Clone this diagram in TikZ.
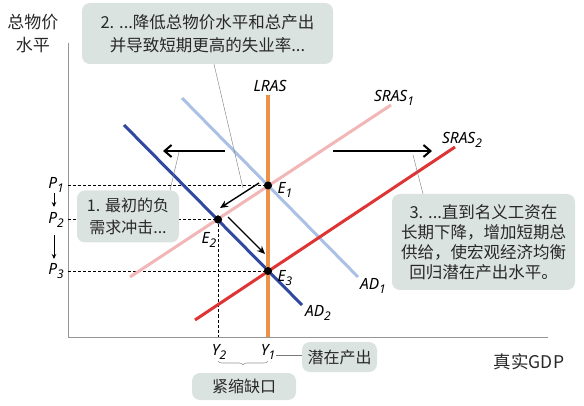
\documentclass[tikz,border=0pt]{standalone}
\usepackage{fontspec}
\setmainfont{Noto Sans CJK SC}
\newfontfamily\latf{Noto Sans}
\usetikzlibrary{arrows.meta,decorations.pathreplacing}
\definecolor{boxfill}{RGB}{219,227,224}
\definecolor{txt}{RGB}{40,40,40}
\definecolor{adone}{RGB}{170,192,228}
\definecolor{adtwo}{RGB}{48,72,160}
\definecolor{srasone}{RGB}{242,182,182}
\definecolor{srastwo}{RGB}{222,52,52}
\definecolor{lrascol}{RGB}{236,146,72}
\definecolor{axiscol}{RGB}{150,150,150}
\newcommand\lsub[1]{\raisebox{-0.45ex}{\fontsize{12}{12}\selectfont #1}}
\tikzset{
  callout/.style={fill=boxfill, rounded corners=8pt, text=txt, align=center, inner sep=0pt},
  curve/.style={line width=3pt},
  lab/.style={font=\latf\itshape\fontsize{15.5}{15.5}\selectfont, text=black, inner sep=0pt},
  guide/.style={dashed, line width=0.6pt, dash pattern=on 3pt off 2pt},
  leader/.style={draw=axiscol!80!black, line width=0.4pt},
  bigarrow/.style={line width=2.2pt, -{Straight Barb[length=7pt,width=12pt,line width=2pt]}},
  smallarrow/.style={line width=1.4pt, -{Stealth[length=8pt,width=7pt]}},
  dot/.style={circle, fill=black, minimum size=8pt, inner sep=0pt},
}
\begin{document}
\begin{tikzpicture}[x=1pt,y=-1pt]
\useasboundingbox (0,0) rectangle (584,406);

% axes
\coordinate (orig) at (68,337);
\coordinate (ytop) at (68,43);
\coordinate (xend) at (548,337);
\draw[axiscol, line width=0.8pt] (ytop) -- (orig) -- (xend);

% points
\node[dot] (E1) at (268,185.5) {};
\node[dot] (E2) at (218,219.5) {};
\node[dot] (E3) at (268,271) {};

% guides
\coordinate (p1a) at (68,185.5);
\coordinate (p2a) at (68,219.5);
\coordinate (p3a) at (68,271);
\coordinate (y2a) at (218,337);
\draw[guide] (p1a) -- (E1.center);
\draw[guide] (p2a) -- (E2.center);
\draw[guide] (p3a) -- (E3.center);
\draw[guide] (E2.center) -- (y2a);

% curves
\coordinate (sr1a) at (130,277); \coordinate (sr1b) at (391,105);
\coordinate (ad1a) at (182,98);  \coordinate (ad1b) at (358,277);
\coordinate (sr2a) at (195,320); \coordinate (sr2b) at (455,147);
\coordinate (ad2a) at (124,125); \coordinate (ad2b) at (302,305);
\coordinate (lra) at (268,95);   \coordinate (lrb) at (268,337);
\draw[curve, srasone] (sr1a) -- (sr1b);
\draw[curve, adone] (ad1a) -- (ad1b);
\draw[curve, srastwo] (sr2a) -- (sr2b);
\draw[curve, adtwo] (ad2a) -- (ad2b);
\fill[lrascol] (266.4,95) rectangle (269.6,337);
\path (lra) -- (lrb);

% redraw dots on top
\node[dot] at (E1) {};
\node[dot] at (E2) {};
\node[dot] at (E3) {};

% curve labels
\node[lab] (lLRAS) at (270,86) {LRAS};
\node[lab] (lS1) at (394,98) {SRAS\lsub{1}};
\node[lab] (lS2) at (462,140) {SRAS\lsub{2}};
\node[lab] (lAD1) at (373,286) {AD\lsub{1}};
\node[lab] (lAD2) at (318,313) {AD\lsub{2}};
\node[lab] (lE1) at (285,190) {E\lsub{1}};
\node[lab] (lE2) at (209,240) {E\lsub{2}};
\node[lab] (lE3) at (285,278) {E\lsub{3}};

% price labels
\node[lab] (P1) at (56,185) {P\lsub{1}};
\node[lab] (P2) at (56,220) {P\lsub{2}};
\node[lab] (P3) at (56,271) {P\lsub{3}};
\coordinate (pa1) at (54,193); \coordinate (pa2) at (54,207);
\coordinate (pa3) at (54,235); \coordinate (pa4) at (54,259);
\draw[line width=1pt, -{Stealth[length=5pt,width=4.5pt]}] (pa1) -- (pa2);
\draw[line width=1pt, -{Stealth[length=5pt,width=4.5pt]}] (pa3) -- (pa4);

% quantity labels
\node[lab] (Y2) at (219,352) {Y\lsub{2}};
\node[lab] (Y1) at (268,352) {Y\lsub{1}};
\coordinate (brA) at (218,361);
\coordinate (brB) at (268,361);
\draw[axiscol, line width=0.6pt, decorate, decoration={brace, mirror, amplitude=4pt}] (brA) -- (brB);

% movement arrows
\coordinate (la1) at (225,151); \coordinate (la2) at (163,151);
\coordinate (ra1) at (333,151); \coordinate (ra2) at (432,151);
\draw[bigarrow] (la1) -- (la2);
\draw[bigarrow] (ra1) -- (ra2);
\coordinate (s1a) at (259,183); \coordinate (s1b) at (220,208);
\coordinate (s2a) at (228,217); \coordinate (s2b) at (265,254);
\draw[smallarrow] (s1a) -- (s1b);
\draw[smallarrow] (s2a) -- (s2b);

% callouts
\node[callout, minimum width=251pt, minimum height=61pt, font=\fontsize{16.5}{23}\selectfont] (b2) at (207.5,33.5) {2. ...降低总物价水平和总产出\\并导致短期更高的失业率...};
\node[callout, minimum width=102pt, minimum height=52pt, font=\fontsize{16}{22}\selectfont] (b1) at (128,216.5) {1. 最初的负\\需求冲击...};
\node[callout, minimum width=183pt, minimum height=96pt, font=\fontsize{16.5}{20}\selectfont] (b3) at (483.5,242) {3. ...直到名义工资在\\长期下降，增加短期总\\供给，使宏观经济均衡\\回归潜在产出水平。};
\node[callout, minimum width=75pt, minimum height=30pt, font=\fontsize{16}{18}\selectfont] (bpot) at (339.5,357) {潜在产出};
\node[callout, minimum width=104pt, minimum height=27pt, font=\fontsize{16}{18}\selectfont] (bgap) at (244,386.5) {紧缩缺口};

% leaders
\coordinate (l2end) at (243,188);
\draw[leader] (b2.south -| 214,0) -- (l2end);
\coordinate (l1end) at (179,152);
\draw[leader] (b1.north -| 170,0) -- (l1end);
\coordinate (l3end) at (413,155);
\draw[leader] (b3.north -| 423,0) -- (l3end);
\coordinate (y1lead) at (276,355);
\draw[leader] (y1lead) -- (bpot.west |- y1lead);

% axis titles
\node[font=\fontsize{17}{23}\selectfont, align=center, text=txt] (ytitle) at (33,34) {总物价\\水平};
\node[font=\fontsize{17.5}{18}\selectfont, text=txt] (xtitle) at (529,362) {真实GDP};
\end{tikzpicture}
\end{document}
